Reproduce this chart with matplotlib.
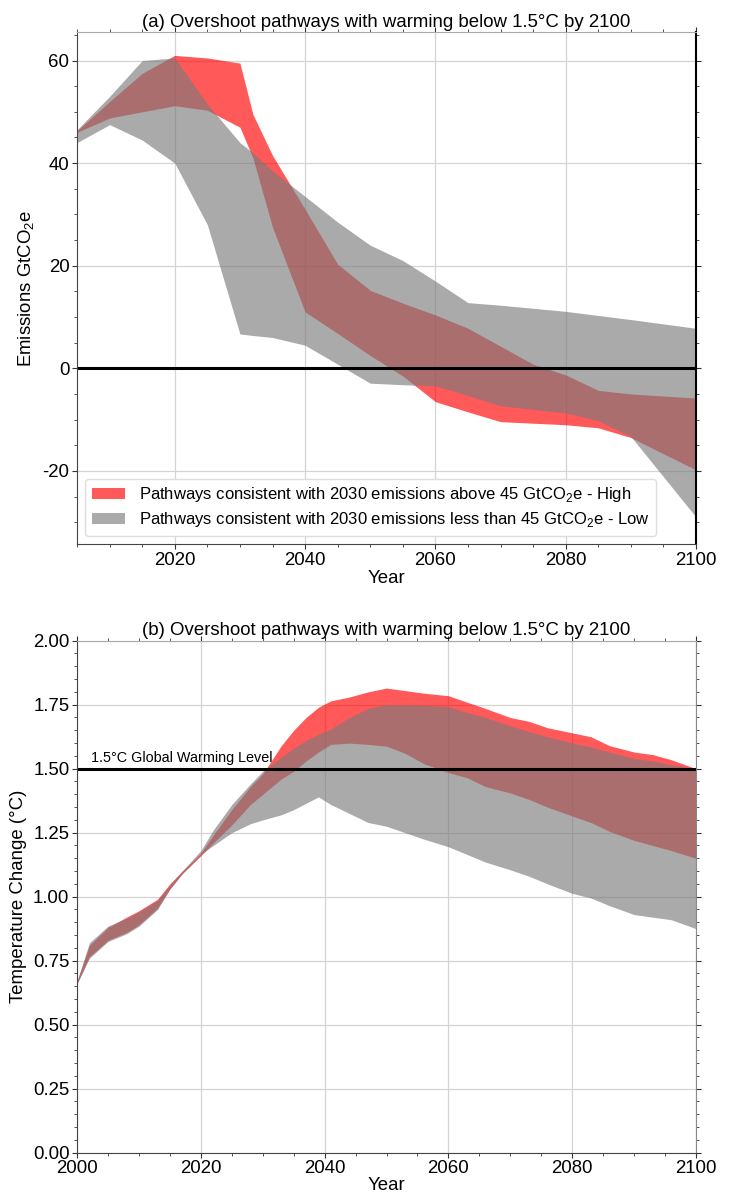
import matplotlib.pyplot as plt
from matplotlib.ticker import MultipleLocator, FormatStrFormatter

plt.rcParams['font.family'] = ['Liberation Sans', 'DejaVu Sans']
plt.rcParams['axes.unicode_minus'] = False
plt.rcParams['mathtext.fontset'] = 'custom'
plt.rcParams['mathtext.rm'] = 'Liberation Sans'

# (a) emissions envelopes, GtCO2e
em_years = [2005, 2010, 2015, 2020, 2025, 2030, 2032, 2035, 2040, 2045,
            2050, 2055, 2060, 2065, 2070, 2075, 2080, 2085, 2090, 2100]
em_high_max = [46.3, 52.0, 57.5, 61.0, 60.5, 59.5, 49.5, 41.5, 31.0, 20.3,
               15.2, 12.7, 10.4, 7.8, 4.3, 0.8, -1.3, -4.3, -5.0, -5.8]
em_high_min = [46.0, 48.8, 50.0, 51.2, 50.3, 47.0, 41.0, 27.5, 11.0, 6.8,
               2.5, -1.5, -6.5, -8.5, -10.4, -10.7, -11.0, -11.6, -13.5, -19.8]
em_low_max = [46.5, 53.0, 60.0, 60.5, 51.5, 44.0, 42.0, 38.5, 33.5, 28.5,
              24.0, 21.0, 17.0, 12.8, 12.3, 11.7, 11.1, 10.3, 9.5, 7.8]
em_low_min = [44.0, 47.5, 44.5, 40.0, 28.0, 6.7, 6.4, 6.0, 4.5, 0.8,
              -2.9, -3.2, -3.4, -5.3, -7.3, -8.0, -8.7, -10.2, -13.3, -29.0]

# (b) temperature envelopes, degC
t_years = [2000, 2002, 2005, 2008, 2010, 2013, 2015, 2017, 2020, 2022, 2025, 2028,
           2030, 2033, 2035, 2037, 2039, 2041, 2044, 2047, 2050, 2053, 2056, 2060,
           2063, 2066, 2070, 2073, 2076, 2080, 2083, 2086, 2090, 2093, 2096, 2100]
t_high_max = [0.67, 0.81, 0.88, 0.92, 0.945, 0.99, 1.05, 1.10, 1.17, 1.24, 1.34, 1.43,
              1.48, 1.59, 1.65, 1.70, 1.74, 1.765, 1.78, 1.80, 1.815, 1.805, 1.795, 1.785,
              1.76, 1.735, 1.70, 1.685, 1.66, 1.64, 1.625, 1.59, 1.565, 1.555, 1.535, 1.50]
t_low_max = [0.67, 0.82, 0.885, 0.915, 0.94, 0.985, 1.045, 1.10, 1.18, 1.26, 1.36, 1.44,
             1.49, 1.545, 1.58, 1.61, 1.635, 1.655, 1.70, 1.735, 1.75, 1.75, 1.748, 1.742,
             1.72, 1.70, 1.668, 1.645, 1.625, 1.60, 1.585, 1.565, 1.54, 1.53, 1.515, 1.50]
t_high_min = [0.66, 0.765, 0.83, 0.86, 0.89, 0.955, 1.03, 1.09, 1.16, 1.21, 1.28, 1.36,
              1.40, 1.46, 1.49, 1.53, 1.565, 1.595, 1.60, 1.595, 1.588, 1.56, 1.52, 1.485,
              1.465, 1.43, 1.405, 1.38, 1.35, 1.315, 1.29, 1.255, 1.22, 1.20, 1.18, 1.15]
t_low_min = [0.66, 0.76, 0.825, 0.855, 0.885, 0.95, 1.03, 1.09, 1.165, 1.20, 1.25, 1.285,
             1.30, 1.32, 1.34, 1.365, 1.39, 1.36, 1.325, 1.29, 1.275, 1.25, 1.225, 1.195,
             1.165, 1.135, 1.105, 1.08, 1.05, 1.013, 0.995, 0.965, 0.93, 0.92, 0.91, 0.875]

title = 'Overshoot pathways with warming below 1.5°C by 2100'
lab_high = 'Pathways consistent with 2030 emissions above 45 GtCO$_\\mathregular{2}$e - High'
lab_low = 'Pathways consistent with 2030 emissions less than 45 GtCO$_\\mathregular{2}$e - Low'

red = (1, 0, 0)
red_a = 0.65
grey = '#7a7a7a'
grey_a = 0.64
fs = 13.4

fig = plt.figure(figsize=(7.3, 11.92), dpi=100)
ax1 = fig.add_axes([0.1055, 0.5434, 0.848, 0.4295])
ax2 = fig.add_axes([0.1055, 0.033, 0.848, 0.4295])

# panel (a)
h1 = ax1.fill_between(em_years, em_high_min, em_high_max, color=red, alpha=red_a,
                      lw=0, label=lab_high)
h2 = ax1.fill_between(em_years, em_low_min, em_low_max, color=grey, alpha=grey_a,
                      lw=0, label=lab_low)
ax1.axhline(0, color='black', lw=2.2)
ax1.set_xlim(2005, 2100)
ax1.set_ylim(-34.3, 65.5)
ax1.xaxis.set_major_locator(MultipleLocator(20))
ax1.xaxis.set_minor_locator(MultipleLocator(5))
ax1.yaxis.set_major_locator(MultipleLocator(20))
ax1.yaxis.set_minor_locator(MultipleLocator(5))
ax1.set_title('(a) ' + title, fontsize=fs, pad=4)
ax1.set_xlabel('Year', fontsize=fs, labelpad=1)
ax1.set_ylabel('Emissions GtCO$_\\mathregular{2}$e', fontsize=fs)
ax1.legend(handles=[h1, h2], loc='lower left', fontsize=12, labelspacing=0.35,
           framealpha=1, edgecolor='#dddddd')

# panel (b)
ax2.fill_between(t_years, t_high_min, t_high_max, color=red, alpha=red_a, lw=0)
ax2.fill_between(t_years, t_low_min, t_low_max, color=grey, alpha=grey_a, lw=0)
ax2.axhline(1.5, color='black', lw=2.2)
ax2.text(2002.3, 1.515, '1.5°C Global Warming Level', fontsize=10.4, va='bottom')
ax2.set_xlim(2000, 2100)
ax2.set_ylim(0, 2)
ax2.xaxis.set_major_locator(MultipleLocator(20))
ax2.xaxis.set_minor_locator(MultipleLocator(5))
ax2.yaxis.set_major_locator(MultipleLocator(0.25))
ax2.yaxis.set_minor_locator(MultipleLocator(0.05))
ax2.yaxis.set_major_formatter(FormatStrFormatter('%.2f'))
ax2.set_title('(b) ' + title, fontsize=fs, pad=4)
ax2.set_xlabel('Year', fontsize=fs, labelpad=0)
ax2.set_ylabel('Temperature Change (°C)', fontsize=fs)

for ax in (ax1, ax2):
    ax.set_axisbelow(True)
    ax.grid(True, which='major', color='#d4d4d4', lw=0.9)
    ax.tick_params(which='both', top=True, right=True, direction='out',
                   labelsize=fs, pad=2, colors='#333333', labelcolor='black')
    ax.tick_params(which='major', length=3.5)
    ax.tick_params(which='minor', length=2)
    ax.spines['left'].set_color('#444444')
    ax.spines['bottom'].set_color('#444444')
    ax.spines['top'].set_color('#aaaaaa')
    ax.spines['right'].set_color('#888888')

ax1.spines['right'].set_color('black')
ax1.spines['right'].set_linewidth(1.5)

fig.savefig('out.png', dpi=100)
